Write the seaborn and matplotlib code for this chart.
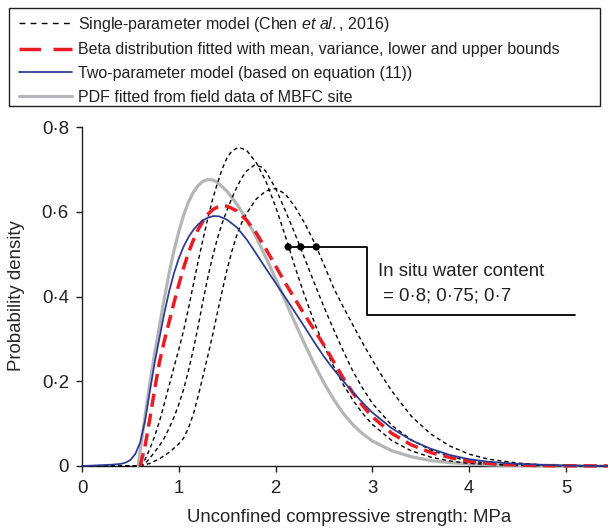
import matplotlib
matplotlib.use("Agg")
import matplotlib.pyplot as plt
from matplotlib.lines import Line2D
from matplotlib.patches import Rectangle
import pandas as pd
import seaborn as sns

# ---- data -------------------------------------------------------------
# Single-parameter model (Chen et al., 2016), in situ water content 0.8
x_w080 = [0.0, 0.60, 0.65, 0.70, 0.75, 0.80, 0.85, 0.90, 0.95, 1.00, 1.05, 1.10, 1.15,
          1.20, 1.25, 1.30, 1.35, 1.40, 1.45, 1.50, 1.55, 1.62, 1.70, 1.80, 1.90, 2.00,
          2.10, 2.20, 2.30, 2.40, 2.50, 2.60, 2.70, 2.80, 2.90, 3.00, 3.20, 3.40, 3.60,
          3.80, 4.00, 4.50, 5.43]
y_w080 = [0.0, 0.0, 0.015, 0.04, 0.07, 0.105, 0.147, 0.19, 0.233, 0.275, 0.32, 0.372, 0.428,
          0.483, 0.535, 0.585, 0.63, 0.668, 0.702, 0.728, 0.744, 0.752, 0.745, 0.716, 0.672,
          0.612, 0.543, 0.47, 0.402, 0.339, 0.284, 0.235, 0.192, 0.155, 0.124, 0.098, 0.060,
          0.036, 0.021, 0.012, 0.006, 0.001, 0.0]

# Single-parameter model, in situ water content 0.75
x_w075 = [0.0, 0.60, 0.65, 0.70, 0.75, 0.80, 0.85, 0.90, 0.95, 1.00, 1.05, 1.10, 1.15,
          1.20, 1.25, 1.30, 1.35, 1.40, 1.45, 1.50, 1.55, 1.60, 1.65, 1.70, 1.78, 1.85,
          1.90, 2.00, 2.10, 2.20, 2.30, 2.40, 2.50, 2.60, 2.70, 2.80, 2.90, 3.00, 3.20,
          3.40, 3.60, 3.80, 4.00, 4.30, 4.80, 5.43]
y_w075 = [0.0, 0.0, 0.006, 0.018, 0.033, 0.048, 0.066, 0.089, 0.115, 0.145, 0.181, 0.225,
          0.275, 0.33, 0.39, 0.445, 0.495, 0.538, 0.574, 0.605, 0.633, 0.658, 0.68, 0.696,
          0.710, 0.706, 0.695, 0.655, 0.603, 0.548, 0.490, 0.432, 0.375, 0.322, 0.271,
          0.223, 0.183, 0.148, 0.096, 0.062, 0.038, 0.022, 0.012, 0.004, 0.001, 0.0]

# Single-parameter model, in situ water content 0.7
x_w070 = [0.0, 0.60, 0.70, 0.80, 0.90, 1.00, 1.05, 1.10, 1.15, 1.20, 1.25, 1.30, 1.35,
          1.40, 1.45, 1.50, 1.55, 1.60, 1.65, 1.70, 1.80, 1.90, 2.00, 2.10, 2.20, 2.30,
          2.40, 2.50, 2.60, 2.70, 2.80, 2.90, 3.00, 3.10, 3.20, 3.40, 3.60, 3.80, 4.00,
          4.20, 4.50, 4.80, 5.43]
y_w070 = [0.0, 0.0, 0.006, 0.017, 0.032, 0.052, 0.066, 0.09, 0.122, 0.165, 0.212, 0.26,
          0.31, 0.363, 0.415, 0.465, 0.508, 0.545, 0.574, 0.596, 0.630, 0.649, 0.655,
          0.642, 0.612, 0.573, 0.528, 0.475, 0.42, 0.375, 0.332, 0.29, 0.25, 0.212,
          0.177, 0.118, 0.076, 0.047, 0.028, 0.016, 0.007, 0.002, 0.0]

# Beta distribution fitted with mean, variance, lower and upper bounds
x_beta = [0.60, 0.65, 0.70, 0.75, 0.80, 0.85, 0.90, 0.95, 1.00, 1.05, 1.10, 1.15, 1.20,
          1.25, 1.30, 1.35, 1.40, 1.46, 1.50, 1.60, 1.70, 1.80, 1.90, 2.00, 2.10, 2.20,
          2.30, 2.40, 2.50, 2.60, 2.70, 2.80, 2.90, 3.00, 3.20, 3.40, 3.60, 3.80, 4.00,
          4.30, 4.70, 5.43]
y_beta = [0.0, 0.045, 0.11, 0.18, 0.245, 0.295, 0.34, 0.385, 0.428, 0.468, 0.503, 0.533,
          0.558, 0.578, 0.594, 0.605, 0.611, 0.614, 0.613, 0.602, 0.580, 0.550, 0.512,
          0.472, 0.432, 0.394, 0.357, 0.321, 0.285, 0.246, 0.207, 0.172, 0.142, 0.116,
          0.077, 0.050, 0.032, 0.020, 0.011, 0.004, 0.001, 0.0]

# Two-parameter model (equation 11)
x_two = [0.0, 0.1, 0.2, 0.3, 0.4, 0.45, 0.5, 0.55, 0.6, 0.65, 0.7, 0.75, 0.8, 0.85, 0.9,
         0.95, 1.0, 1.05, 1.1, 1.15, 1.2, 1.25, 1.3, 1.36, 1.42, 1.5, 1.6, 1.7, 1.8, 1.9,
         2.0, 2.1, 2.2, 2.3, 2.4, 2.5, 2.6, 2.7, 2.8, 2.9, 3.0, 3.2, 3.4, 3.6, 3.8, 4.0,
         4.2, 4.5, 5.0, 5.43]
y_two = [0.0, 0.001, 0.002, 0.003, 0.005, 0.008, 0.014, 0.028, 0.055, 0.105, 0.175, 0.243,
         0.302, 0.36, 0.412, 0.455, 0.49, 0.518, 0.54, 0.557, 0.57, 0.58, 0.586, 0.590,
         0.589, 0.581, 0.563, 0.535, 0.501, 0.466, 0.432, 0.398, 0.363, 0.328, 0.292,
         0.258, 0.228, 0.200, 0.174, 0.149, 0.126, 0.089, 0.061, 0.041, 0.026, 0.016,
         0.010, 0.005, 0.001, 0.0]

# PDF fitted from field data of MBFC site
x_field = [0.58, 0.60, 0.65, 0.70, 0.75, 0.80, 0.85, 0.90, 0.95, 1.00, 1.05, 1.10, 1.15,
           1.20, 1.25, 1.30, 1.35, 1.40, 1.50, 1.60, 1.70, 1.80, 1.90, 2.00, 2.10, 2.20,
           2.30, 2.40, 2.50, 2.60, 2.70, 2.80, 2.90, 3.00, 3.20, 3.40, 3.60, 3.80, 4.00,
           4.30, 4.70, 5.43]
y_field = [0.0, 0.035, 0.115, 0.195, 0.265, 0.33, 0.395, 0.455, 0.508, 0.553, 0.592, 0.623,
           0.646, 0.662, 0.672, 0.676, 0.675, 0.669, 0.648, 0.618, 0.582, 0.54, 0.492,
           0.442, 0.39, 0.338, 0.288, 0.24, 0.196, 0.157, 0.124, 0.097, 0.076, 0.059,
           0.036, 0.022, 0.013, 0.008, 0.005, 0.002, 0.0005, 0.0]

# where the three single-parameter curves pass the marker level
water_contents = ["0·8", "0·75", "0·7"]
marker_x = [2.13, 2.26, 2.42]
marker_y = 0.517
callout_elbow_x = 2.94
callout_low_y = 0.356
callout_end_x = 5.09

x_ticks = [0, 1, 2, 3, 4, 5]
x_tick_labels = ["0", "1", "2", "3", "4", "5"]
y_ticks = [0.0, 0.2, 0.4, 0.6, 0.8]
y_tick_labels = ["0", "0·2", "0·4", "0·6", "0·8"]

legend_labels = [
    r"Single-parameter model (Chen $\mathit{et\ al.}$, 2016)",
    "Beta distribution fitted with mean, variance, lower and upper bounds",
    "Two-parameter model (based on equation (11))",
    "PDF fitted from field data of MBFC site",
]

# ---- style ------------------------------------------------------------
sns.set_theme(style="ticks")
TXT = "#231f20"
plt.rcParams.update({
    "font.family": ["Liberation Sans", "DejaVu Sans"],
    "mathtext.fontset": "custom",
    "mathtext.rm": "Liberation Sans",
    "mathtext.it": "Liberation Sans:italic",
    "text.color": TXT,
    "axes.edgecolor": TXT,
    "xtick.color": TXT,
    "ytick.color": TXT,
})

RED = "#ec1c24"
BLUE = "#2b3990"
GREY = "#b4b5b8"
BLACK_DASH = (2.9, 2.3)
RED_DASH = (3.8, 2.0)

fig = plt.figure(figsize=(6.08, 5.31), dpi=100)
ax = fig.add_axes([82 / 608, 1 - 466 / 531, 1 - 82 / 608, (466 - 127) / 531])

def draw(x, y, color, lw, dashes=None, z=3):
    df = pd.DataFrame({"ucs": x, "pdf": y})
    sns.lineplot(data=df, x="ucs", y="pdf", ax=ax, color=color, linewidth=lw,
                 estimator=None, sort=False, errorbar=None, zorder=z)
    line = ax.lines[-1]
    line.set_clip_on(False)
    line.set_solid_joinstyle("round")
    line.set_dash_joinstyle("round")
    if dashes is not None:
        line.set_dashes(dashes)
    return line

draw(x_field, y_field, GREY, 2.3, z=3)
for xs, ys in [(x_w080, y_w080), (x_w075, y_w075), (x_w070, y_w070)]:
    draw(xs, ys, "black", 1.0, BLACK_DASH, z=4)
draw(x_beta, y_beta, RED, 2.5, RED_DASH, z=5)
draw(x_two, y_two, BLUE, 1.25, z=6)

# callout for the water-content curves
ax.plot([marker_x[0], callout_elbow_x, callout_elbow_x, callout_end_x],
        [marker_y, marker_y, callout_low_y, callout_low_y],
        color="black", lw=1.3, zorder=7, clip_on=False)
sns.scatterplot(x=marker_x, y=[marker_y] * len(marker_x), ax=ax, color="black",
                s=28, edgecolor="none", zorder=8)
ax.text(3.058, 0.448, "In situ water content", fontsize=13.4, va="baseline", ha="left")
ax.text(3.058, 0.3915, " = " + "; ".join(water_contents), fontsize=13.4,
        va="baseline", ha="left")

# axes
ax.set_xlim(0, 5.434)
ax.set_ylim(0, 0.8)
ax.set_xticks(x_ticks)
ax.set_xticklabels(x_tick_labels)
ax.set_yticks(y_ticks)
ax.set_yticklabels(y_tick_labels)
ax.tick_params(axis="both", direction="out", length=4.5, width=1.0, labelsize=13.4)
ax.tick_params(axis="x", pad=5.5)
ax.tick_params(axis="y", pad=5.0)
for side in ["top", "right"]:
    ax.spines[side].set_visible(False)
for side in ["left", "bottom"]:
    ax.spines[side].set_linewidth(1.0)
ax.set_xlabel("Unconfined compressive strength: MPa", fontsize=13.4)
ax.set_ylabel("Probability density", fontsize=13.4)
ax.xaxis.set_label_coords(0.5076, -0.1274)
ax.yaxis.set_label_coords(-0.1084, 0.5015)
ax.patch.set_alpha(0)

# legend in a framed box across the top
handles = [
    Line2D([], [], color="black", lw=1.0, dashes=(4.2, 3.8)),
    Line2D([], [], color=RED, lw=2.5, dashes=(6.2, 3.6)),
    Line2D([], [], color=BLUE, lw=1.25),
    Line2D([], [], color=GREY, lw=2.3),
]
fig.legend(handles, legend_labels, loc="upper left",
           bbox_to_anchor=(19 / 608, 1 - 14.5 / 531), frameon=False, borderpad=0,
           borderaxespad=0, handlelength=3.3, handletextpad=0.4, labelspacing=0.55,
           fontsize=11.5)
fig.add_artist(Rectangle((8.5 / 608, 1 - 106 / 531), (600 - 8.5) / 608, 98 / 531,
                         transform=fig.transFigure, fill=False, lw=1.0, ec=TXT))

fig.savefig("out.png", dpi=100)
